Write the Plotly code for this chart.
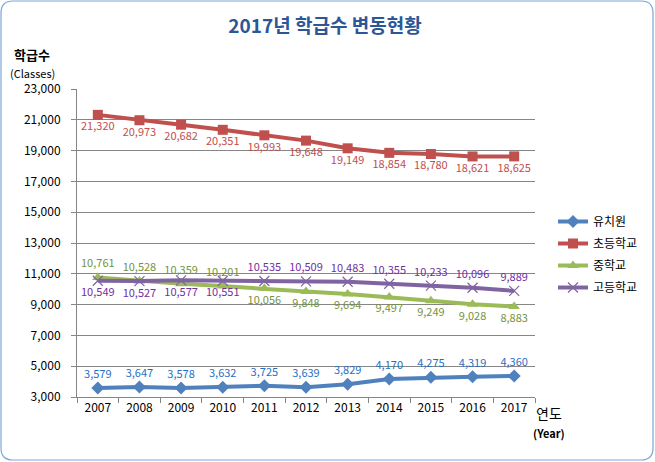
import plotly.graph_objects as go

years = ["2007", "2008", "2009", "2010", "2011", "2012", "2013", "2014", "2015", "2016", "2017"]
kinder = [3579, 3647, 3578, 3632, 3725, 3639, 3829, 4170, 4275, 4319, 4360]
elem = [21320, 20973, 20682, 20351, 19993, 19648, 19149, 18854, 18780, 18621, 18625]
middle = [10761, 10528, 10359, 10201, 10056, 9848, 9694, 9497, 9249, 9028, 8883]
high = [10549, 10527, 10577, 10551, 10535, 10509, 10483, 10355, 10233, 10096, 9889]

names = ["유치원", "초등학교", "중학교", "고등학교"]
y_ticks = list(range(3000, 23001, 2000))

W, H = 655, 462
L, R, T, B = 77, 120, 89, 65
PW, PH = W - L - R, H - T - B

FONT = "Noto Sans CJK KR"

def px2paper(x, y):
    return (x - L) / PW, (H - B - y) / PH

fig = go.Figure()

pos_mid = ["top center"] * 4 + ["bottom center"] * 7
pos_high = ["bottom center"] * 4 + ["top center"] * 7

series = [
    (kinder, names[0], "#4F81BD", "diamond", 10, "#1F6FC5", "top center"),
    (elem, names[1], "#C0504D", "square", 10, "#C0504D", "bottom center"),
    (middle, names[2], "#9BBB59", "triangle-up", 10, "#76923C", pos_mid),
    (high, names[3], "#8064A2", "x-thin", 10, "#7030A0", pos_high),
]

for vals, name, col, sym, size, tcol, tpos in series:
    marker = dict(symbol=sym, size=size, color=col)
    if sym == "x-thin":
        marker["line"] = dict(width=1.2, color=col)
    fig.add_trace(go.Scatter(
        x=years, y=vals, name=name, mode="lines+markers+text",
        line=dict(color=col, width=4),
        marker=marker,
        text=[f"{v:,}" for v in vals],
        textposition=tpos,
        textfont=dict(family=FONT, size=11, color=tcol),
        legendgroup=name,
        cliponaxis=False,
    ))

# rounded frame
x0, y0 = 1, 1
x1, y1 = 653, 460
r = 12
def P(x, y):
    a, b = px2paper(x, y)
    return f"{a:.5f},{b:.5f}"
path = (f"M {P(x0 + r, y0)} L {P(x1 - r, y0)} Q {P(x1, y0)} {P(x1, y0 + r)} "
        f"L {P(x1, y1 - r)} Q {P(x1, y1)} {P(x1 - r, y1)} "
        f"L {P(x0 + r, y1)} Q {P(x0, y1)} {P(x0, y1 - r)} "
        f"L {P(x0, y0 + r)} Q {P(x0, y0)} {P(x0 + r, y0)} Z")
fig.add_shape(type="path", path=path, xref="paper", yref="paper",
              line=dict(color="#7AA7DA", width=1.2), layer="below")

def ann(text, px, py, size, bold=False, color="black", xanchor="center"):
    ax, ay = px2paper(px, py)
    fig.add_annotation(text=f"<b>{text}</b>" if bold else text, x=ax, y=ay,
                       xref="paper", yref="paper", showarrow=False,
                       xanchor=xanchor, yanchor="middle",
                       font=dict(family=FONT, size=size, color=color))

ann("학급수", 32, 54, 13, bold=True)
ann("(Classes)", 32, 73, 11)
ann("연도", 534, 413, 14, xanchor="left")
ann("(Year)", 531, 433, 11, bold=True, xanchor="left")

fig.update_layout(
    width=W, height=H,
    margin=dict(l=L, r=R, t=T, b=B, autoexpand=False),
    paper_bgcolor="white", plot_bgcolor="white",
    title=dict(text="<b>2017년 학급수 변동현황</b>", x=325 / W, xanchor="center",
               y=1 - 26 / H, yanchor="middle", xref="container",
               font=dict(family=FONT, size=19, color="#2B5796")),
    font=dict(family=FONT, size=12, color="black"),
    showlegend=True,
    legend=dict(x=px2paper(553, 0)[0], y=px2paper(0, 207)[1], xanchor="left", yanchor="top",
                font=dict(family=FONT, size=12, color="black"),
                bgcolor="rgba(0,0,0,0)", tracegroupgap=3, itemwidth=30),
)

fig.update_xaxes(type="category", showgrid=False, showline=True, linecolor="#868686",
                 linewidth=1, ticks="outside", ticklen=5, tickcolor="#868686",
                 tickson="boundaries", range=[-0.5, 10.5],
                 tickfont=dict(family=FONT, size=12, color="black"))
fig.update_yaxes(range=[3000, 23000], tickvals=y_ticks, tickformat=",d",
                 showgrid=True, gridcolor="#868686", gridwidth=1,
                 showline=True, linecolor="#868686", linewidth=1,
                 ticks="outside", ticklen=5, tickcolor="#868686",
                 ticklabelstandoff=8, zeroline=False,
                 tickfont=dict(family=FONT, size=12, color="black"))

fig.write_html("out.html", config={"displayModeBar": False},
               post_script="document.body.style.margin='0';document.body.style.overflow='hidden';")
